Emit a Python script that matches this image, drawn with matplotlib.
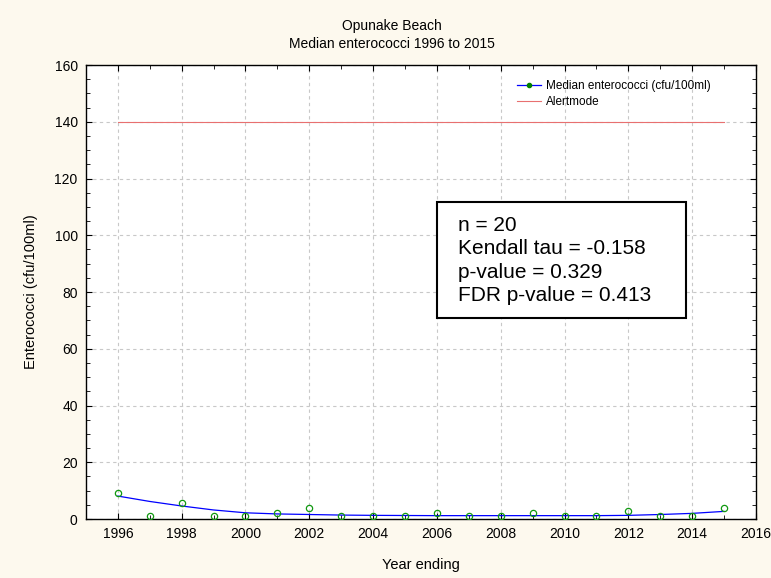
import numpy as np
import matplotlib.pyplot as plt
from matplotlib.lines import Line2D
from matplotlib.patches import Rectangle
from matplotlib.ticker import MultipleLocator

plt.rcParams['font.family'] = ['Liberation Sans', 'DejaVu Sans']

# データ
years = np.arange(1996, 2016)
median_ent = [9.2, 1.0, 5.6, 1.0, 1.2, 2.1, 3.9, 1.2, 1.0, 1.0,
              2.0, 1.0, 1.0, 2.1, 1.0, 1.0, 2.9, 1.0, 1.0, 3.9]
smooth_ent = [8.1, 6.2, 4.6, 3.2, 2.2, 1.8, 1.6, 1.4, 1.3, 1.25,
              1.2, 1.2, 1.2, 1.2, 1.2, 1.2, 1.3, 1.6, 2.0, 2.7]
alert_years = [1996, 2015]
alert_level = [140, 140]
stats_lines = ["n = 20", "Kendall tau = -0.158", "p-value = 0.329", "FDR p-value = 0.413"]

bg = '#fdf9ee'
fig = plt.figure(figsize=(7.71, 5.78), dpi=100, facecolor=bg)
ax = fig.add_axes([0.1115, 0.102, 0.869, 0.7855])
ax.set_facecolor('white')

ax.plot(years, smooth_ent, color='blue', lw=0.9, zorder=3)
ax.plot(years, median_ent, 'o', mfc='none', mec='#119911', ms=4.5, mew=0.9, zorder=4)
ax.plot(alert_years, alert_level, color='#e87070', lw=0.8, zorder=3)

ax.set_xlim(1995, 2016)
ax.set_ylim(0, 160)
ax.xaxis.set_major_locator(MultipleLocator(2))
ax.xaxis.set_minor_locator(MultipleLocator(1))
ax.yaxis.set_major_locator(MultipleLocator(20))
ax.yaxis.set_minor_locator(MultipleLocator(5))
ax.tick_params(which='both', direction='in', top=True, right=True, labelsize=10, colors='black')
ax.tick_params(which='major', length=4, pad=6)
ax.tick_params(which='minor', length=3)
ax.grid(True, which='major', ls=(0, (3, 3)), color='#c8c8c8', lw=0.8)
for s in ax.spines.values():
    s.set_linewidth(1.0)

ax.set_xlabel("Year ending", fontsize=10.5, labelpad=12)
ax.set_ylabel("Enterococci (cfu/100ml)", fontsize=10.5, labelpad=12)
fig.text(392 / 771, 1 - 35 / 578, "Opunake Beach\nMedian enterococci 1996 to 2015",
         ha='center', va='center', fontsize=10, linespacing=1.3)

# 凡例
handles = [Line2D([], [], color='blue', lw=0.9, marker='o', ms=3, mfc='green', mec='green'),
           Line2D([], [], color='#e87070', lw=0.8)]
ax.legend(handles, ["Median enterococci (cfu/100ml)", "Alertmode"], loc='upper left',
          bbox_to_anchor=(0.628, 0.99), frameon=False, fontsize=8.5,
          handlelength=2.0, handletextpad=0.4, labelspacing=0.35)

# 統計ボックス
ax.add_patch(Rectangle((0.524, 0.443), 0.3715, 0.255, transform=ax.transAxes,
                       facecolor='white', edgecolor='black', lw=1.5, zorder=5))
ax.text(0.555, 0.569, "\n".join(stats_lines), transform=ax.transAxes,
        ha='left', va='center', fontsize=15, linespacing=1.3, zorder=6)

plt.savefig("out.png", dpi=100, facecolor=bg)
